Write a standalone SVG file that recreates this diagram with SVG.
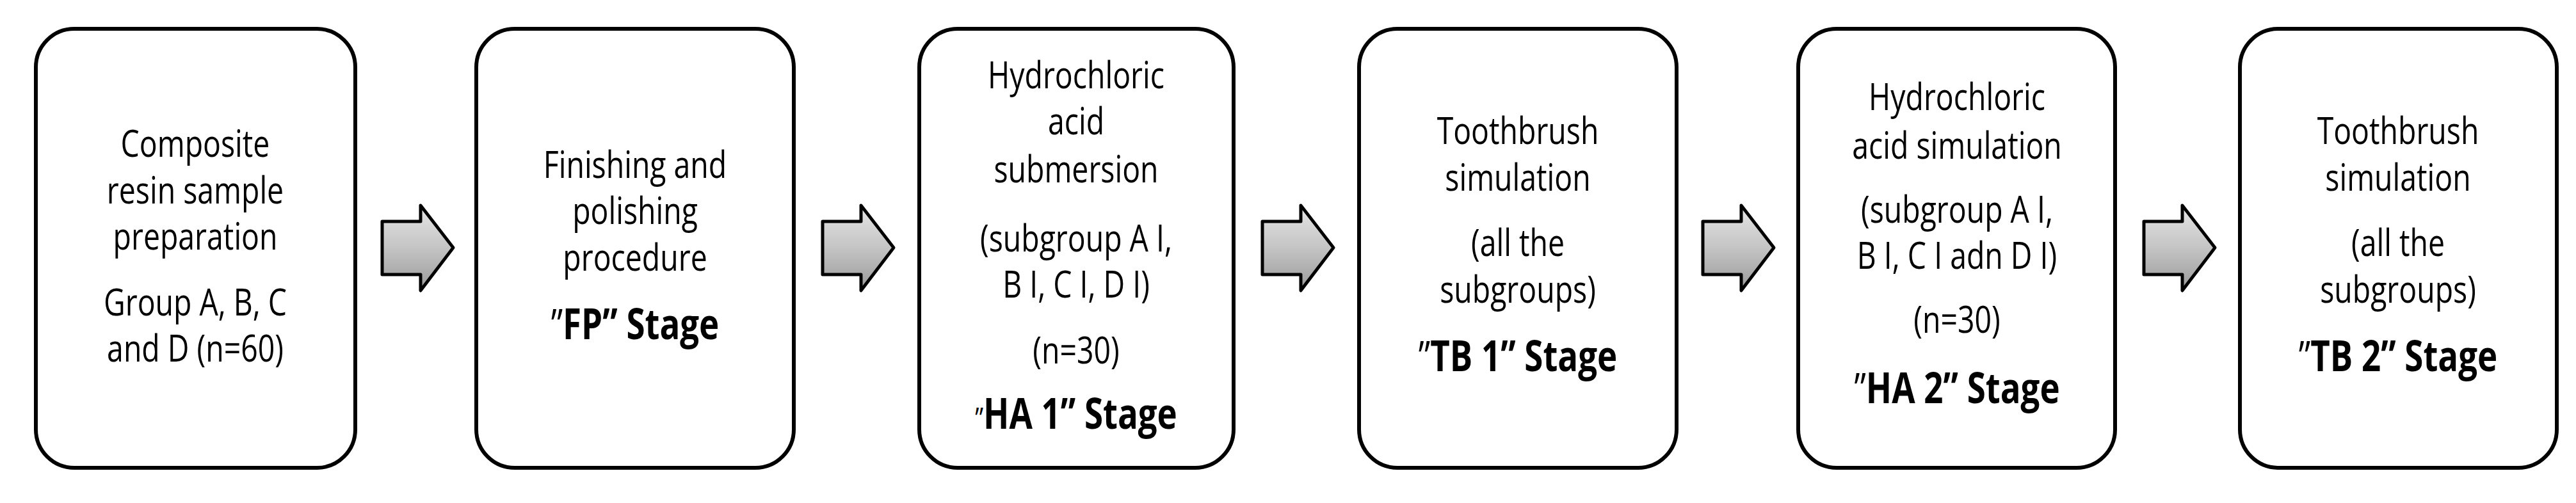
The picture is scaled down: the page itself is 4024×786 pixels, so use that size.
<svg xmlns="http://www.w3.org/2000/svg" width="4024" height="786" viewBox="0 0 4024 786">
<style>
.box{fill:#fff;stroke:#000;stroke-width:6}
text{font-family:"Open Sans","Liberation Sans",sans-serif;font-size:58px;text-anchor:middle;fill:#000}
.b{font-weight:bold;font-size:66px}
.q{font-weight:normal}
.arr{fill:url(#g);stroke:#000;stroke-width:5;stroke-linejoin:round}
</style>
<defs>
<linearGradient id="g" x1="0" y1="0" x2="0" y2="1">
<stop offset="0" stop-color="#e6e6e6"/><stop offset="0.5" stop-color="#c4c4c4"/><stop offset="1" stop-color="#9a9a9a"/>
</linearGradient>
<path id="a" d="M0,346 H60 V321 L111,387 L60,454 V429 H0 Z"/>
</defs>
<g id="connectors">
<use href="#a" class="arr" x="597"/>
<use href="#a" class="arr" x="1285"/>
<use href="#a" class="arr" x="1972"/>
<use href="#a" class="arr" x="2660"/>
<use href="#a" class="arr" x="3349"/>
</g>
<g id="n1"><rect class="box" x="56" y="45" width="499" height="686" rx="60"/>
<g transform="translate(305,0) scale(0.8,1)">
<text x="0" y="245">Composite</text><text x="0" y="318">resin sample</text><text x="0" y="390">preparation</text><text x="0" y="493">Group A, B, C</text><text x="0" y="565">and D (n=60)</text></g></g>
<g id="n2"><rect class="box" x="744" y="45" width="496" height="686" rx="60"/>
<g transform="translate(992,0) scale(0.8,1)">
<text x="0" y="278">Finishing and</text><text x="0" y="350">polishing</text><text x="0" y="423">procedure</text><text x="0" y="530" class="b"><tspan class="q">”</tspan>FP” Stage</text></g></g>
<g id="n3"><rect class="box" x="1436" y="45" width="491" height="686" rx="60"/>
<g transform="translate(1681,0) scale(0.8,1)">
<text x="0" y="138">Hydrochloric</text><text x="0" y="210">acid</text><text x="0" y="285">submersion</text><text x="0" y="393">(subgroup A I,</text><text x="0" y="465">B I, C I, D I)</text><text x="0" y="568">(n=30)</text><text x="0" y="670" class="b"><tspan class="q" font-size="46">”</tspan>HA 1” Stage</text></g></g>
<g id="n4"><rect class="box" x="2123" y="45" width="496" height="686" rx="60"/>
<g transform="translate(2371,0) scale(0.8,1)">
<text x="0" y="225">Toothbrush</text><text x="0" y="298">simulation</text><text x="0" y="400">(all the</text><text x="0" y="473">subgroups)</text><text x="0" y="580" class="b"><tspan class="q">”</tspan>TB 1” Stage</text></g></g>
<g id="n5"><rect class="box" x="2809" y="45" width="495" height="686" rx="60"/>
<g transform="translate(3057,0) scale(0.8,1)">
<text x="0" y="172">Hydrochloric</text><text x="0" y="248">acid simulation</text><text x="0" y="348">(subgroup A I,</text><text x="0" y="420">B I, C I adn D I)</text><text x="0" y="520">(n=30)</text><text x="0" y="630" class="b"><tspan class="q">”</tspan>HA 2” Stage</text></g></g>
<g id="n6"><rect class="box" x="3499" y="45" width="495" height="686" rx="60"/>
<g transform="translate(3746,0) scale(0.8,1)">
<text x="0" y="225">Toothbrush</text><text x="0" y="298">simulation</text><text x="0" y="400">(all the</text><text x="0" y="473">subgroups)</text><text x="0" y="580" class="b"><tspan class="q">”</tspan>TB 2” Stage</text></g></g>
</svg>
